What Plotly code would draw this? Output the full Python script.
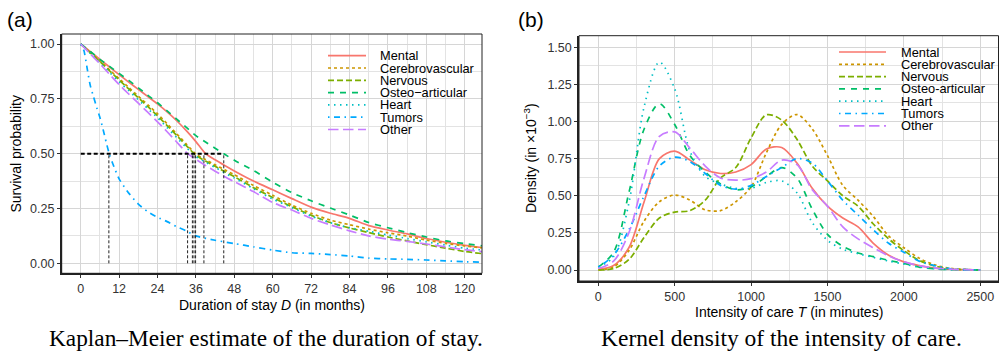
import plotly.graph_objects as go

W, H = 1000, 351

# ---------------- data: Kaplan-Meier survival (panel a) ----------------
months = [0, 3, 6, 9, 12, 15, 18, 21, 24, 27, 30, 33, 36, 39, 42, 45, 48, 54, 60, 66, 72, 78, 84, 90, 96, 102, 108, 114, 120, 126]
surv_mental = [1, 0.965, 0.93, 0.895, 0.86, 0.826, 0.793, 0.76, 0.727, 0.69, 0.65, 0.605, 0.555, 0.5, 0.472, 0.446, 0.421, 0.375, 0.335, 0.295, 0.256, 0.228, 0.205, 0.172, 0.152, 0.134, 0.113, 0.096, 0.082, 0.071]
surv_cerebro = [1, 0.962, 0.922, 0.882, 0.842, 0.802, 0.762, 0.722, 0.682, 0.636, 0.59, 0.544, 0.498, 0.473, 0.449, 0.426, 0.404, 0.355, 0.31, 0.265, 0.228, 0.197, 0.176, 0.156, 0.139, 0.124, 0.106, 0.091, 0.079, 0.07]
surv_nervous = [1, 0.96, 0.92, 0.878, 0.836, 0.795, 0.755, 0.714, 0.673, 0.628, 0.583, 0.537, 0.492, 0.466, 0.442, 0.418, 0.395, 0.345, 0.3, 0.258, 0.219, 0.186, 0.161, 0.14, 0.12, 0.102, 0.085, 0.069, 0.054, 0.043]
surv_osteo = [1, 0.966, 0.93, 0.898, 0.866, 0.834, 0.80, 0.766, 0.732, 0.695, 0.657, 0.62, 0.582, 0.553, 0.525, 0.497, 0.47, 0.423, 0.37, 0.322, 0.285, 0.252, 0.22, 0.186, 0.162, 0.14, 0.12, 0.102, 0.09, 0.079]
surv_heart = [1, 0.957, 0.914, 0.871, 0.828, 0.787, 0.746, 0.705, 0.664, 0.619, 0.573, 0.528, 0.487, 0.461, 0.437, 0.412, 0.389, 0.34, 0.293, 0.254, 0.215, 0.185, 0.162, 0.146, 0.129, 0.113, 0.098, 0.083, 0.069, 0.06]
surv_other = [1, 0.955, 0.91, 0.862, 0.815, 0.772, 0.73, 0.688, 0.645, 0.6, 0.553, 0.506, 0.474, 0.446, 0.42, 0.395, 0.372, 0.327, 0.277, 0.243, 0.205, 0.175, 0.148, 0.125, 0.11, 0.1, 0.088, 0.075, 0.062, 0.052]
tumor_months = [0, 1, 2, 3, 4, 5, 6, 7, 8, 9, 10, 12, 15, 18, 21, 24, 27, 30, 33, 36, 42, 48, 54, 60, 66, 72, 78, 84, 90, 96, 102, 108, 114, 120, 126]
surv_tumors = [1, 0.97, 0.89, 0.81, 0.76, 0.71, 0.665, 0.61, 0.55, 0.495, 0.455, 0.385, 0.32, 0.27, 0.235, 0.21, 0.19, 0.167, 0.148, 0.125, 0.105, 0.09, 0.075, 0.06, 0.048, 0.045, 0.04, 0.033, 0.024, 0.02, 0.018, 0.015, 0.011, 0.007, 0.005]
# median durations (months)
median_months = [8.8, 33.4, 34.9, 35.4, 35.9, 38.5, 44.7]

# ---------------- data: kernel densities (panel b), in 1e-3 ----------------
intensity = [0, 100, 200, 300, 400, 500, 600, 700, 800, 900, 1000, 1100, 1200, 1300, 1400, 1500, 1600, 1700, 1800, 1900, 2000, 2100, 2200, 2300, 2400, 2500]
dens_mental = [0.005, 0.03, 0.15, 0.46, 0.75, 0.80, 0.74, 0.675, 0.65, 0.66, 0.71, 0.815, 0.825, 0.72, 0.55, 0.43, 0.35, 0.29, 0.18, 0.10, 0.055, 0.03, 0.013, 0.005, 0.002, 0.0]
dens_cerebro = [0.0, 0.02, 0.13, 0.33, 0.46, 0.505, 0.47, 0.405, 0.40, 0.46, 0.56, 0.79, 0.98, 1.047, 0.95, 0.77, 0.57, 0.47, 0.36, 0.23, 0.15, 0.08, 0.035, 0.012, 0.004, 0.0]
dens_nervous = [0.0, 0.01, 0.07, 0.22, 0.35, 0.39, 0.40, 0.47, 0.62, 0.69, 0.89, 1.045, 1.01, 0.88, 0.70, 0.60, 0.50, 0.43, 0.31, 0.21, 0.13, 0.065, 0.028, 0.008, 0.002, 0.0]
dens_osteo = [0.02, 0.12, 0.52, 0.95, 1.12, 0.98, 0.77, 0.66, 0.58, 0.54, 0.56, 0.63, 0.69, 0.62, 0.41, 0.24, 0.16, 0.115, 0.09, 0.065, 0.045, 0.02, 0.008, 0.003, 0.001, 0.0]
dens_heart = [0.02, 0.09, 0.45, 1.10, 1.40, 1.22, 0.80, 0.63, 0.58, 0.55, 0.55, 0.59, 0.60, 0.52, 0.32, 0.20, 0.14, 0.11, 0.085, 0.06, 0.04, 0.02, 0.008, 0.003, 0.001, 0.0]
dens_tumors = [0.02, 0.10, 0.27, 0.50, 0.70, 0.76, 0.73, 0.65, 0.57, 0.545, 0.57, 0.63, 0.69, 0.75, 0.72, 0.60, 0.47, 0.37, 0.27, 0.18, 0.12, 0.06, 0.03, 0.01, 0.003, 0.0]
dens_other = [0.01, 0.06, 0.25, 0.62, 0.90, 0.93, 0.82, 0.70, 0.62, 0.605, 0.615, 0.66, 0.74, 0.71, 0.54, 0.43, 0.29, 0.21, 0.15, 0.095, 0.055, 0.03, 0.014, 0.006, 0.002, 0.0]

names = ["Mental", "Cerebrovascular", "Nervous", "Osteo\u2212articular", "Heart", "Tumors", "Other"]
names_b = ["Mental", "Cerebrovascular", "Nervous", "Osteo-articular", "Heart", "Tumors", "Other"]
colors = ["#F8766D", "#CD9600", "#7CAE00", "#00BE67", "#00BFC4", "#00A9FF", "#C77CFF"]
dashes = ["solid", "3px,3px", "6px,3px", "6px,6px", "1.5px,4.5px", "1.5px,4.5px,6px,4.5px", "10.5px,4.5px"]

x_ticks_a = [0, 12, 24, 36, 48, 60, 72, 84, 96, 108, 120]
y_ticks = [0, 0.25, 0.5, 0.75, 1.0]
y_ticks_b = [0, 0.25, 0.5, 0.75, 1.0, 1.25, 1.5]
x_ticks_b = [0, 500, 1000, 1500, 2000, 2500]

LW = 1.7
FONT = "Liberation Sans, Arial, sans-serif"

fig = go.Figure()

km_x = [months, months, months, months, months, tumor_months, months]
km_y = [surv_mental, surv_cerebro, surv_nervous, surv_osteo, surv_heart, surv_tumors, surv_other]
for nm, xs, ys, c, d in zip(names, km_x, km_y, colors, dashes):
    fig.add_trace(go.Scatter(x=xs, y=ys, mode="lines", name=nm, showlegend=False,
                             line=dict(color=c, width=LW, dash=d, shape="spline", smoothing=0.6),
                             xaxis="x", yaxis="y"))

# median guide lines
vx, vy = [], []
for m in median_months:
    vx += [m, m, None]
    vy += [0, 0.5, None]
fig.add_trace(go.Scatter(x=vx, y=vy, mode="lines", showlegend=False, hoverinfo="skip",
                         line=dict(color="#222222", width=1, dash="3px,2px"), xaxis="x", yaxis="y"))
fig.add_trace(go.Scatter(x=[0, max(median_months)], y=[0.5, 0.5], mode="lines", showlegend=False,
                         hoverinfo="skip", line=dict(color="black", width=2, dash="4px,2.5px"),
                         xaxis="x", yaxis="y"))

dens = [dens_mental, dens_cerebro, dens_nervous, dens_osteo, dens_heart, dens_tumors, dens_other]
for nm, ys, c, d in zip(names_b, dens, colors, dashes):
    fig.add_trace(go.Scatter(x=intensity, y=ys, mode="lines", name=nm, showlegend=False,
                             line=dict(color=c, width=LW, dash=d, shape="spline", smoothing=0.9),
                             xaxis="x2", yaxis="y2"))

def px(x):
    return x / W

def py(y):
    return 1 - y / H

axis_common = dict(
    showgrid=True, gridcolor="#d6d6d6", gridwidth=1.2,
    zeroline=False, showline=True, linecolor="#222222", linewidth=1.5,
    ticks="outside", ticklen=3, tickcolor="#333333", tickwidth=1,
    tickfont=dict(family=FONT, size=12.5, color="#333333"),
)

fig.update_layout(
    width=W, height=H, margin=dict(l=0, r=0, t=0, b=0),
    paper_bgcolor="white", plot_bgcolor="white", showlegend=False,
    xaxis=dict(domain=[px(61.7), px(482)], range=[-5.94, 125.4], tickvals=x_ticks_a,
               minor=dict(tickvals=[6 + 12 * k for k in range(11)], showgrid=True, gridcolor="#e3e3e3", gridwidth=0.8, ticks=""),
               anchor="y", **axis_common),
    yaxis=dict(domain=[py(273.3), py(34)], range=[-0.0456, 1.0456], tickvals=y_ticks,
               ticktext=["0.00", "0.25", "0.50", "0.75", "1.00"],
               minor=dict(tickvals=[0.125, 0.375, 0.625, 0.875], showgrid=True, gridcolor="#e3e3e3", gridwidth=0.8, ticks=""),
               anchor="x", **axis_common),
    xaxis2=dict(domain=[px(579), px(998.5)], range=[-126.3, 2619], tickvals=x_ticks_b,
                minor=dict(tickvals=[250, 750, 1250, 1750, 2250], showgrid=True, gridcolor="#e3e3e3", gridwidth=0.8, ticks=""),
                anchor="y2", **axis_common),
    yaxis2=dict(domain=[py(281), py(35.7)], range=[-0.074, 1.578], tickvals=y_ticks_b,
                ticktext=["0.00", "0.25", "0.50", "0.75", "1.00", "1.25", "1.50"],
                minor=dict(tickvals=[0.125, 0.375, 0.625, 0.875, 1.125, 1.375], showgrid=True, gridcolor="#e3e3e3", gridwidth=0.8, ticks=""),
                anchor="x2", **axis_common),
)

shapes = []
annotations = []
# panel borders (thin top/right)
for (x0, x1, y0, y1) in [(61.7, 482, 34, 273.3), (579, 998.5, 35.7, 281)]:
    shapes.append(dict(type="rect", xref="paper", yref="paper", x0=px(x0), x1=px(x1), y0=py(y1), y1=py(y0),
                       line=dict(color="#222222", width=1), fillcolor="rgba(0,0,0,0)", layer="above"))

# manual legends (compact, ggplot style)
for (lx0, lx1, tx, y0), lab in [((328, 366, 378, 55.7), names), ((839, 886, 899, 52.0), names_b)]:
    for i, (nm, c, d) in enumerate(zip(lab, colors, dashes)):
        yy = y0 + 12.3 * i
        shapes.append(dict(type="line", xref="paper", yref="paper", x0=px(lx0), x1=px(lx1),
                           y0=py(yy), y1=py(yy), line=dict(color=c, width=LW, dash=d)))
        annotations.append(dict(text=nm, xref="paper", yref="paper", x=px(tx), y=py(yy),
                                xanchor="left", yanchor="middle", showarrow=False,
                                font=dict(family=FONT, size=12.8, color="black")))

def label(text, x, y, size, family=FONT, angle=0):
    annotations.append(dict(text=text, xref="paper", yref="paper", x=px(x), y=py(y),
                            xanchor="center", yanchor="middle", showarrow=False, textangle=angle,
                            font=dict(family=family, size=size, color="black")))

label("(a)", 20, 20, 21)
label("(b)", 530.5, 20, 21)
label("Duration of stay <i>D</i> (in months)", 272, 305, 14)
label("Intensity of care <i>T</i> (in minutes)", 789, 311.5, 14)
label("Survival probability", 16, 153.6, 14, angle=-90)
label("Density (in \u00d710<sup>\u22123</sup>)", 530, 158, 14, angle=-90)
SERIF = "Liberation Serif, Times New Roman, serif"
label("Kaplan\u2013Meier estimate of the duration of stay.", 266, 338, 23.3, family=SERIF)
label("Kernel density of the intensity of care.", 781, 338, 23.5, family=SERIF)

fig.update_layout(shapes=shapes, annotations=annotations)
fig.write_html("out.html")
